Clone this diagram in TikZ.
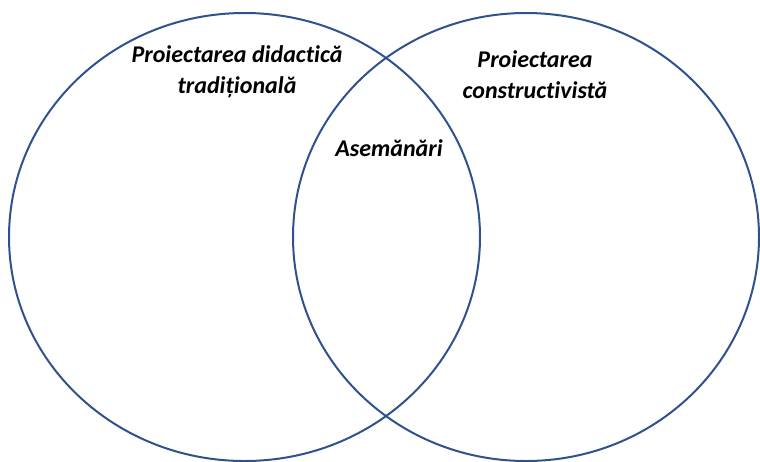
\documentclass[tikz,border=0pt]{standalone}
\usepackage{fontspec}
\setmainfont[Ligatures={NoCommon}]{Carlito}
\begin{document}
\begin{tikzpicture}[x=1pt,y=-1pt,
  ring/.style={draw=ringblue,line width=2pt},
  label/.style={font=\bfseries\itshape\fontsize{24}{31}\selectfont,align=center,inner sep=0pt}]
\definecolor{ringblue}{HTML}{2F528F}
\useasboundingbox (0,0) rectangle (760,461);
% the two overlapping sets
\draw[ring] (244.5,237) ellipse [x radius=235.5, y radius=224];
\draw[ring] (526,237) ellipse [x radius=233, y radius=224];
% set labels
\node[label] (trad) at (237,72) {Proiectarea didactică\\tradițională};
\node[label] (cons) at (535,75) {Proiectarea\\constructivistă};
\node[label] (ase) at (389,148) {Asemănări};
\end{tikzpicture}
\end{document}
